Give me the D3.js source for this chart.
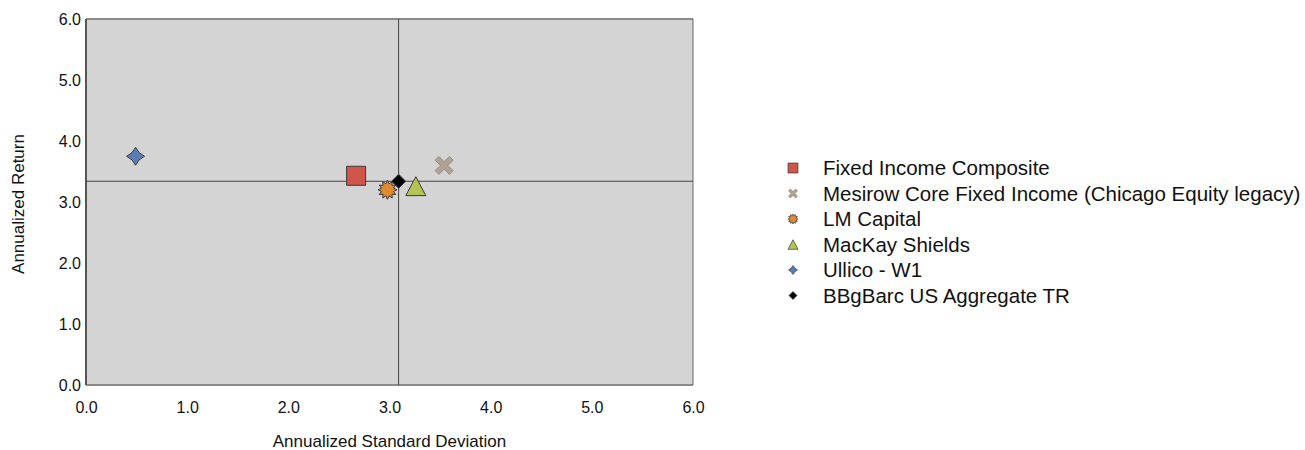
<!DOCTYPE html>
<html>
<head>
<meta charset="utf-8">
<script src="https://cdn.jsdelivr.net/npm/d3@7/dist/d3.min.js"></script>
<style>
  html, body { margin: 0; padding: 0; background: #ffffff; }
  svg { display: block; }
  .tick-label { font-family: "Liberation Sans", Arial, sans-serif; font-size: 16px; fill: #111; }
  .axis-title { font-family: "Liberation Sans", Arial, sans-serif; font-size: 17px; fill: #111; }
  .legend-text { font-family: "Liberation Sans", Arial, sans-serif; font-size: 20.5px; fill: #111; }
</style>
</head>
<body>
<svg id="chart" width="1305" height="450"></svg>
<script>
// Risk / return data (annualized, %)
const names = [
  "Fixed Income Composite",
  "Mesirow Core Fixed Income (Chicago Equity legacy)",
  "LM Capital",
  "MacKay Shields",
  "Ullico - W1",
  "BBgBarc US Aggregate TR"
];
const stdDev = [2.67, 3.54, 2.98, 3.26, 0.49, 3.09];
const returns = [3.43, 3.60, 3.20, 3.26, 3.75, 3.34];
const colors = ["#d0554a", "#aea395", "#e08a30", "#b5c255", "#5a7cb5", "#000000"];
const shapes = ["square", "x", "burst", "triangle", "star4", "diamond"];
const xTicks = [0, 1, 2, 3, 4, 5, 6];
const yTicks = [0, 1, 2, 3, 4, 5, 6];
const benchmarkIndex = 5;

const svg = d3.select("#chart");
const plot = { left: 86, right: 693, top: 19, bottom: 385 };

const x = d3.scaleLinear().domain([0, 6]).range([plot.left, plot.right]);
const y = d3.scaleLinear().domain([0, 6]).range([plot.bottom, plot.top]);

// plot background
svg.append("rect")
  .attr("x", plot.left).attr("y", plot.top)
  .attr("width", plot.right - plot.left).attr("height", plot.bottom - plot.top)
  .attr("fill", "#d4d4d4");

// frame: darker left/right edges, lighter top/bottom
svg.append("line").attr("x1", plot.left).attr("x2", plot.right).attr("y1", plot.top).attr("y2", plot.top)
  .attr("stroke", "#8a8a8a").attr("stroke-width", 2);
svg.append("line").attr("x1", plot.left).attr("x2", plot.right).attr("y1", plot.bottom).attr("y2", plot.bottom)
  .attr("stroke", "#8a8a8a").attr("stroke-width", 2);
svg.append("line").attr("x1", plot.left).attr("x2", plot.left).attr("y1", plot.top).attr("y2", plot.bottom)
  .attr("stroke", "#555").attr("stroke-width", 2);
svg.append("line").attr("x1", plot.right).attr("x2", plot.right).attr("y1", plot.top).attr("y2", plot.bottom)
  .attr("stroke", "#666").attr("stroke-width", 1);

// crosshair through the benchmark
svg.append("line")
  .attr("x1", x(stdDev[benchmarkIndex])).attr("x2", x(stdDev[benchmarkIndex]))
  .attr("y1", plot.top).attr("y2", plot.bottom)
  .attr("stroke", "#444").attr("stroke-width", 1);
svg.append("line")
  .attr("x1", plot.left).attr("x2", plot.right)
  .attr("y1", y(returns[benchmarkIndex])).attr("y2", y(returns[benchmarkIndex]))
  .attr("stroke", "#444").attr("stroke-width", 1);

// axes
const xAxis = svg.append("g").attr("transform", `translate(0,${plot.bottom})`)
  .call(d3.axisBottom(x).tickValues(xTicks).tickSize(0).tickPadding(17).tickFormat(d3.format(".1f")));
const yAxis = svg.append("g").attr("transform", `translate(${plot.left},0)`)
  .call(d3.axisLeft(y).tickValues(yTicks).tickSize(0).tickPadding(5).tickFormat(d3.format(".1f")));
[xAxis, yAxis].forEach(g => {
  g.select(".domain").remove();
  g.selectAll("text").attr("class", "tick-label").attr("font-family", null).attr("font-size", null);
});
yAxis.selectAll("text").attr("dy", "0.36em");

svg.append("text").attr("class", "axis-title")
  .attr("x", (plot.left + plot.right) / 2).attr("y", 447)
  .attr("text-anchor", "middle").text("Annualized Standard Deviation");
svg.append("text").attr("class", "axis-title")
  .attr("transform", `translate(24,${(plot.top + plot.bottom) / 2 + 2}) rotate(-90)`)
  .attr("text-anchor", "middle").text("Annualized Return");

// marker shapes, s = approximate full width
function shapePath(kind, s) {
  const r = s / 2;
  switch (kind) {
    case "square":
      return `M${-r},${-r}H${r}V${r}H${-r}Z`;
    case "diamond":
      return `M0,${-r}L${r},0L0,${r}L${-r},0Z`;
    case "triangle": {
      const h = s * 0.95;
      return `M0,${-h / 2}L${r},${h / 2}L${-r},${h / 2}Z`;
    }
    case "x": {
      const a = r * 0.42, b = r;
      const pts = [[0, -a], [b - a, -b], [b, -b + a], [a, 0], [b, b - a], [b - a, b], [0, a], [-b + a, b], [-b, b - a], [-a, 0], [-b, -b + a], [-b + a, -b]];
      return "M" + pts.map(p => p.join(",")).join("L") + "Z";
    }
    case "burst": {
      const n = 12, pts = [];
      for (let i = 0; i < n * 2; i++) {
        const rr = i % 2 === 0 ? r : r * 0.66;
        const ang = Math.PI * i / n - Math.PI / 2;
        pts.push([rr * Math.cos(ang), rr * Math.sin(ang)]);
      }
      return "M" + pts.map(p => p.map(v => v.toFixed(2)).join(",")).join("L") + "Z";
    }
    case "star4": {
      const ri = r * 0.3;
      return `M0,${-r}Q${ri},${-ri} ${r},0Q${ri},${ri} 0,${r}Q${-ri},${ri} ${-r},0Q${-ri},${-ri} 0,${-r}Z`;
    }
  }
}
const plotSizes = [19, 18, 19, 20, 18, 14];
const legendSizes = [10, 9, 10, 10, 9, 8];

// points (benchmark drawn last so it sits on top)
const order = [0, 1, 3, 4, 2, 5];
svg.append("g").selectAll("path")
  .data(order)
  .join("path")
  .attr("transform", i => `translate(${x(stdDev[i])},${y(returns[i])})`)
  .attr("d", i => shapePath(shapes[i], plotSizes[i]))
  .attr("fill", i => colors[i])
  .attr("stroke", i => shapes[i] === "x" ? "#8f8578" : "#3a3a3a")
  .attr("stroke-width", i => shapes[i] === "x" ? 0.8 : 1);

// legend
const legend = svg.append("g").attr("transform", "translate(793,168)");
const rows = legend.selectAll("g").data(names).join("g")
  .attr("transform", (d, i) => `translate(0,${i * 25.5})`);
rows.append("path")
  .attr("d", (d, i) => shapePath(shapes[i], legendSizes[i]))
  .attr("fill", (d, i) => colors[i])
  .attr("stroke", (d, i) => shapes[i] === "x" ? "#8f8578" : "#3a3a3a")
  .attr("stroke-width", 0.7);
rows.append("text").attr("class", "legend-text")
  .attr("x", 30).attr("y", 7).text(d => d);
</script>
</body>
</html>
